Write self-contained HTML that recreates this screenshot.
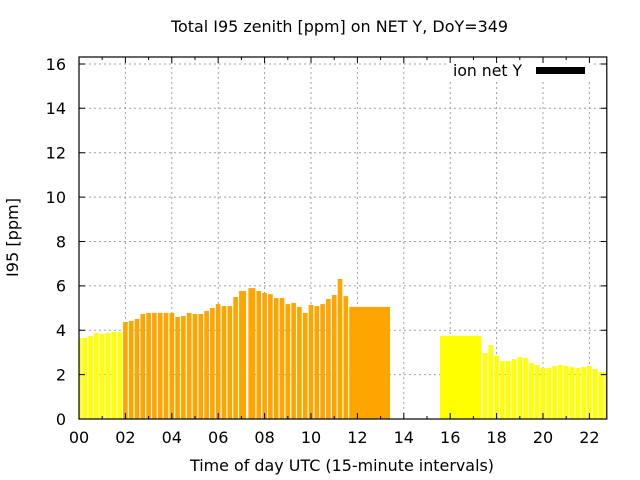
<!DOCTYPE html>
<html><head><meta charset="utf-8"><style>
html,body{margin:0;padding:0;background:#fff;}
svg{display:block;}
text{font-family:"DejaVu Sans","Liberation Sans",sans-serif;font-size:16px;fill:#000;}
</style></head><body>
<svg width="640" height="480" viewBox="0 0 640 480" xmlns="http://www.w3.org/2000/svg">
<defs><clipPath id="pc"><rect x="79" y="57" width="527.8" height="362"/></clipPath></defs>
<rect x="0" y="0" width="640" height="480" fill="#fff"/>
<!-- grid -->
<g stroke="#a0a0a0" stroke-width="1" stroke-dasharray="2,3" fill="none">
<path d="M125.4 57V419M171.8 57V419M218.2 57V419M264.6 57V419M311 57V419M357.4 57V419M403.8 57V419M450.2 57V419M496.6 57V419M543 57V419M589.4 57V419"/>
<path d="M79 374.6H606.8M79 330.2H606.8M79 285.9H606.8M79 241.5H606.8M79 197.1H606.8M79 152.7H606.8M79 108.3H606.8M79 64H606.8"/>
</g>
<!-- legend bg -->
<rect x="446" y="58" width="146" height="24" fill="#fff"/>
<g clip-path="url(#pc)">
<g fill="#ffff00">
<rect x="79" y="338" width="2.32" height="81"/>
<rect x="82.48" y="338" width="4.64" height="81"/>
<rect x="88.28" y="336" width="4.64" height="83"/>
<rect x="94.08" y="332.9" width="4.64" height="86.1"/>
<rect x="99.88" y="334" width="4.64" height="85"/>
<rect x="105.68" y="332.9" width="4.64" height="86.1"/>
<rect x="111.48" y="332" width="4.64" height="87"/>
<rect x="117.28" y="332" width="4.64" height="87"/>
</g>
<g fill="#ffa500">
<rect x="123.08" y="322" width="4.64" height="97"/>
<rect x="128.88" y="320.9" width="4.64" height="98.1"/>
<rect x="134.68" y="318.9" width="4.64" height="100.1"/>
<rect x="140.48" y="314" width="4.64" height="105"/>
<rect x="146.28" y="312.9" width="4.64" height="106.1"/>
<rect x="152.08" y="312.9" width="4.64" height="106.1"/>
<rect x="157.88" y="312.9" width="4.64" height="106.1"/>
<rect x="163.68" y="312.9" width="4.64" height="106.1"/>
<rect x="169.48" y="312.9" width="4.64" height="106.1"/>
<rect x="175.28" y="316.9" width="4.64" height="102.1"/>
<rect x="181.08" y="316" width="4.64" height="103"/>
<rect x="186.88" y="312.9" width="4.64" height="106.1"/>
<rect x="192.68" y="314" width="4.64" height="105"/>
<rect x="198.48" y="314" width="4.64" height="105"/>
<rect x="204.28" y="310.9" width="4.64" height="108.1"/>
<rect x="210.08" y="308" width="4.64" height="111"/>
<rect x="215.88" y="304.1" width="4.64" height="114.9"/>
<rect x="221.68" y="306.1" width="4.64" height="112.9"/>
<rect x="227.48" y="306.1" width="4.64" height="112.9"/>
<rect x="233.28" y="297" width="4.64" height="122"/>
<rect x="239.08" y="291" width="6.96" height="128"/>
<rect x="248.36" y="288.1" width="6.96" height="130.9"/>
<rect x="256.48" y="291" width="4.64" height="128"/>
<rect x="262.28" y="293" width="4.64" height="126"/>
<rect x="268.08" y="294.1" width="4.64" height="124.9"/>
<rect x="273.88" y="298.1" width="4.64" height="120.9"/>
<rect x="279.68" y="298.1" width="4.64" height="120.9"/>
<rect x="285.48" y="304.1" width="4.64" height="114.9"/>
<rect x="291.28" y="302.9" width="4.64" height="116.1"/>
<rect x="297.08" y="306.9" width="4.64" height="112.1"/>
<rect x="302.88" y="312.9" width="4.64" height="106.1"/>
<rect x="308.68" y="304.9" width="4.64" height="114.1"/>
<rect x="314.48" y="306.1" width="4.64" height="112.9"/>
<rect x="320.28" y="304.1" width="4.64" height="114.9"/>
<rect x="326.08" y="299" width="4.64" height="120"/>
<rect x="331.88" y="295" width="4.64" height="124"/>
<rect x="337.68" y="279" width="4.64" height="140"/>
<rect x="343.48" y="296.1" width="4.64" height="122.9"/>
<rect x="349.2" y="306.9" width="40.8" height="112.1"/>
</g>
<g fill="#ffff00">
<rect x="440" y="335.8" width="41.3" height="83.2"/>
<rect x="482.68" y="353.1" width="4.64" height="65.9"/>
<rect x="488.48" y="345.1" width="4.64" height="73.9"/>
<rect x="494.28" y="356" width="4.64" height="63"/>
<rect x="500.08" y="361.1" width="4.64" height="57.9"/>
<rect x="505.88" y="361.1" width="4.64" height="57.9"/>
<rect x="511.68" y="359.1" width="4.64" height="59.9"/>
<rect x="517.48" y="357.1" width="4.64" height="61.9"/>
<rect x="523.28" y="358" width="4.64" height="61"/>
<rect x="529.08" y="363.1" width="4.64" height="55.9"/>
<rect x="534.88" y="365.1" width="4.64" height="53.9"/>
<rect x="540.68" y="368" width="4.64" height="51"/>
<rect x="546.48" y="368" width="4.64" height="51"/>
<rect x="552.28" y="366" width="4.64" height="53"/>
<rect x="558.08" y="365.1" width="4.64" height="53.9"/>
<rect x="563.88" y="366" width="4.64" height="53"/>
<rect x="569.68" y="367.1" width="4.64" height="51.9"/>
<rect x="575.48" y="368" width="4.64" height="51"/>
<rect x="581.28" y="367.1" width="4.64" height="51.9"/>
<rect x="587.08" y="366" width="4.64" height="53"/>
<rect x="592.88" y="369.1" width="4.64" height="49.9"/>
<rect x="598.68" y="372" width="4.64" height="47"/>
<rect x="604.48" y="372" width="2.32" height="47"/>
</g>
</g>
<!-- ticks -->
<g stroke="#000" stroke-width="1" fill="none">
<path d="M79 419v-6M125.4 419v-6M171.8 419v-6M218.2 419v-6M264.6 419v-6M311 419v-6M357.4 419v-6M403.8 419v-6M450.2 419v-6M496.6 419v-6M543 419v-6M589.4 419v-6"/>
<path d="M125.4 57v6M171.8 57v6M218.2 57v6M264.6 57v6M311 57v6M357.4 57v6M403.8 57v6M450.2 57v6M496.6 57v6M543 57v6M589.4 57v6"/>
<path d="M102.2 419v-3M148.6 419v-3M195 419v-3M241.4 419v-3M287.8 419v-3M334.2 419v-3M380.6 419v-3M427 419v-3M473.4 419v-3M519.8 419v-3M566.2 419v-3"/>
<path d="M102.2 57v3M148.6 57v3M195 57v3M241.4 57v3M287.8 57v3M334.2 57v3M380.6 57v3M427 57v3M473.4 57v3M519.8 57v3M566.2 57v3"/>
<path d="M79 374.6h6M79 330.2h6M79 285.9h6M79 241.5h6M79 197.1h6M79 152.7h6M79 108.3h6M79 64h6"/>
<path d="M606.8 374.6h-6M606.8 330.2h-6M606.8 285.9h-6M606.8 241.5h-6M606.8 197.1h-6M606.8 152.7h-6M606.8 108.3h-6M606.8 64h-6"/>
</g>
<rect x="79" y="57" width="527.8" height="362" fill="none" stroke="#000" stroke-width="1.2"/>
<!-- y labels -->
<g text-anchor="end">
<text x="66" y="424.8">0</text>
<text x="66" y="380.4">2</text>
<text x="66" y="336">4</text>
<text x="66" y="291.7">6</text>
<text x="66" y="247.3">8</text>
<text x="66" y="202.9">10</text>
<text x="66" y="158.5">12</text>
<text x="66" y="114.1">14</text>
<text x="66" y="69.8">16</text>
</g>
<g text-anchor="middle">
<text x="79" y="443">00</text>
<text x="125.4" y="443">02</text>
<text x="171.8" y="443">04</text>
<text x="218.2" y="443">06</text>
<text x="264.6" y="443">08</text>
<text x="311" y="443">10</text>
<text x="357.4" y="443">12</text>
<text x="403.8" y="443">14</text>
<text x="450.2" y="443">16</text>
<text x="496.6" y="443">18</text>
<text x="543" y="443">20</text>
<text x="589.4" y="443">22</text>
</g>
<text x="171" y="32" textLength="337" lengthAdjust="spacingAndGlyphs">Total I95 zenith [ppm] on NET Y, DoY=349</text>
<text x="190" y="471" textLength="304" lengthAdjust="spacingAndGlyphs">Time of day UTC (15-minute intervals)</text>
<text transform="translate(18,277) rotate(-90)" textLength="79" lengthAdjust="spacingAndGlyphs">I95 [ppm]</text>
<text x="453" y="76" textLength="69" lengthAdjust="spacingAndGlyphs">ion net Y</text>
<rect x="536" y="67" width="49" height="7" fill="#000"/>
</svg>
</body></html>
